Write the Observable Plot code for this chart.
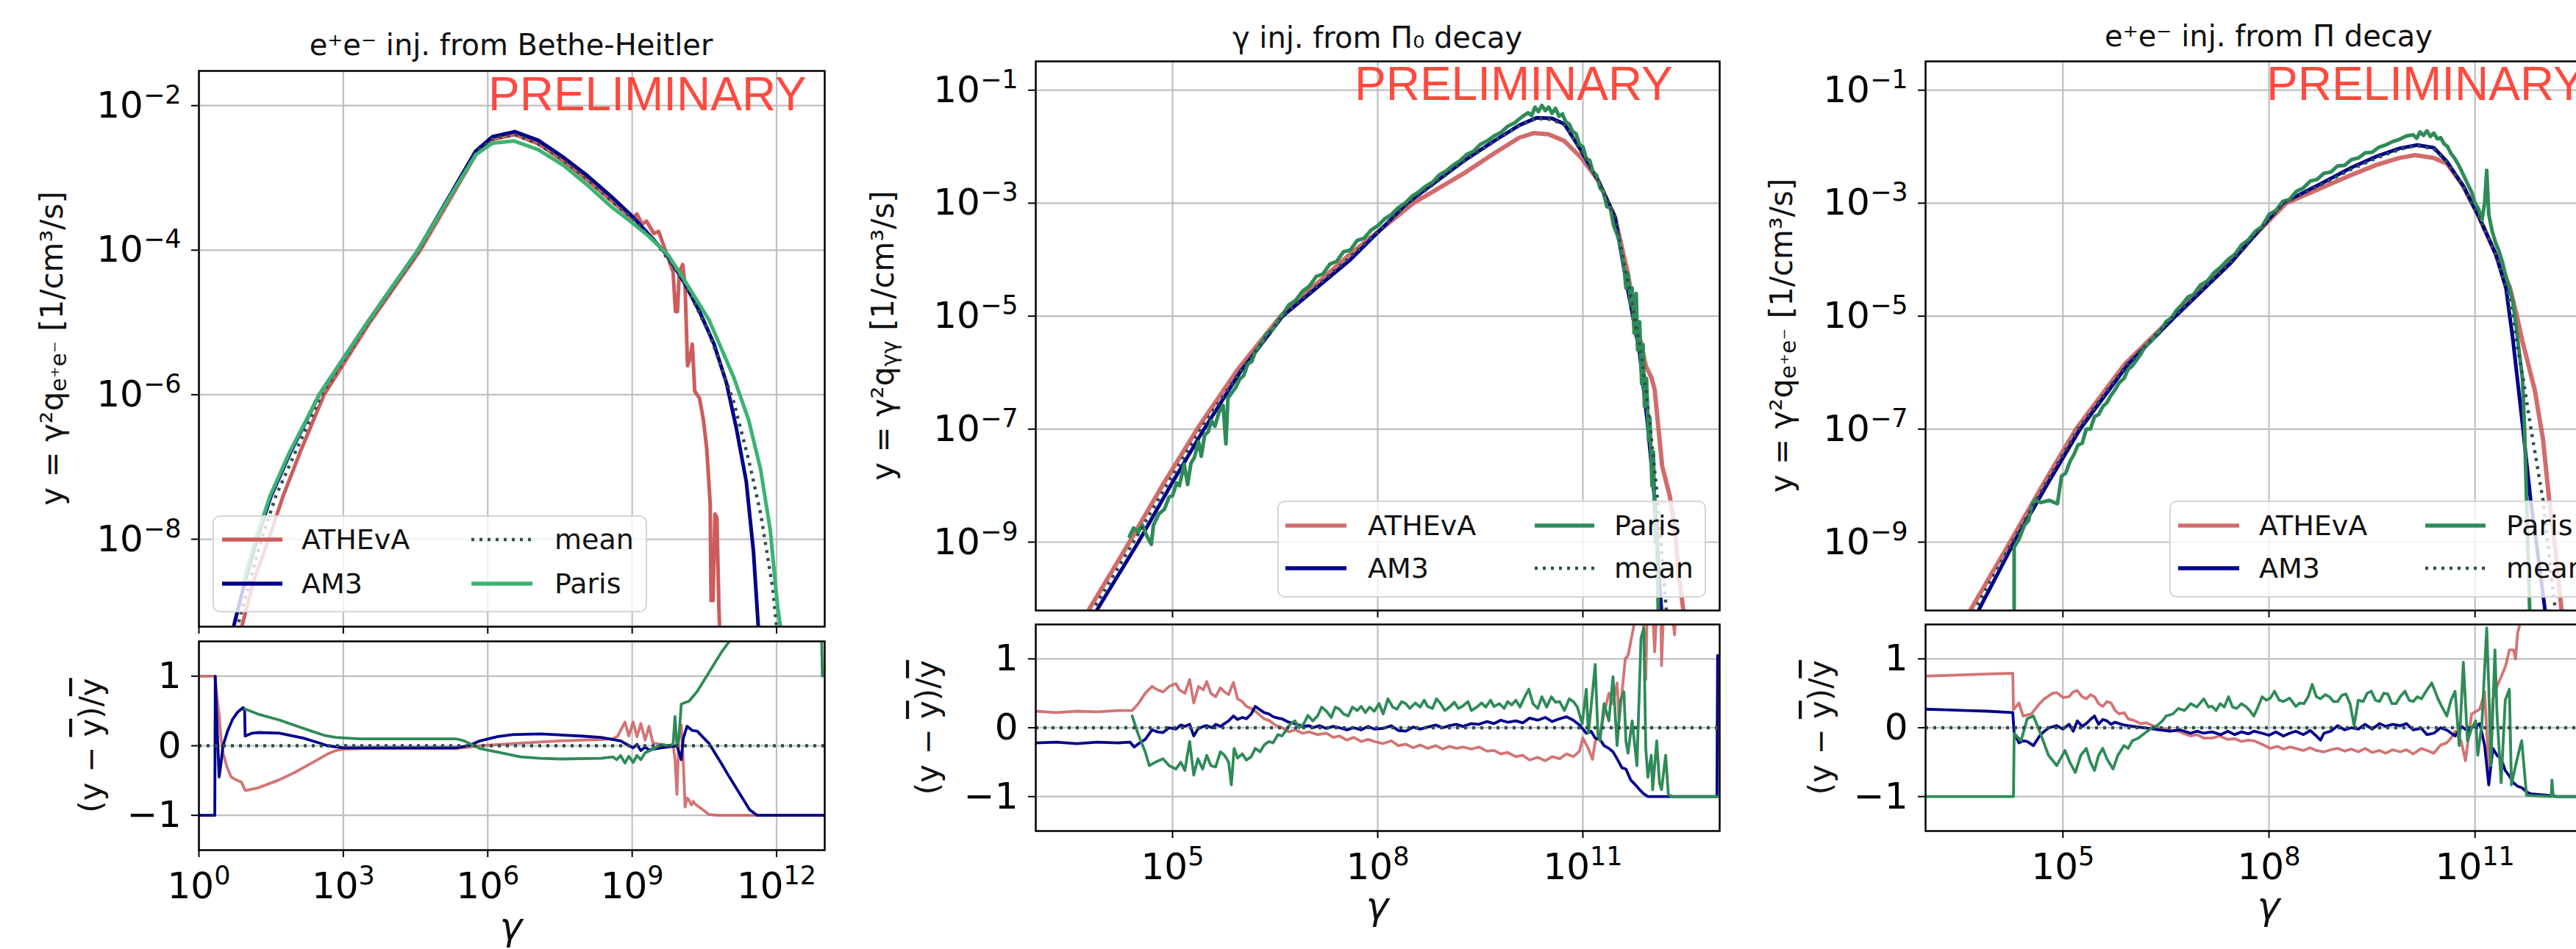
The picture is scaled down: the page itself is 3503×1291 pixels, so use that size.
<!DOCTYPE html>
<html><head><meta charset="utf-8">
<script src="https://cdn.jsdelivr.net/npm/d3@7"></script>
<script src="https://cdn.jsdelivr.net/npm/@observablehq/plot@0.6"></script>
<style>
html,body{margin:0;padding:0;background:#fff;overflow:hidden;}
#root{position:relative;width:3503px;height:1291px;overflow:hidden;background:#fff;}
</style></head><body><div id="root"></div><script>
// ---------------- DATA (log10 γ, log10 y) ----------------
const TITLES = ["e⁺e⁻ inj. from Bethe-Heitler", "γ inj. from Π₀ decay", "e⁺e⁻ inj. from Π decay"];
const SUBS = ["e⁺e⁻", "γγ", "e⁺e⁻"];
const X_TICKS = [[0,3,6,9,12],[5,8,11],[5,8,11]];
const Y_TICKS = [[-8,-6,-4,-2],[-9,-7,-5,-3,-1],[-9,-7,-5,-3,-1]];
const X_DOMAIN = [[0,13],[3,13],[3,13]];
const Y_DOMAIN = [[-9.21,-1.52],[-10.21,-0.49],[-10.21,-0.49]];
const RES_TICKS = [-1,0,1];
const RES_DOMAIN = [-1.5,1.5];

const p1Athena = [[0.80,-9.7],[0.89,-9.21],[1.15,-8.55],[1.45,-8.0],[1.75,-7.4],[2.1,-6.8],[2.6,-6.0],[3.55,-5.0],[4.6,-4.0],[5.3,-3.2],[5.77,-2.66],[6.1,-2.47],[6.56,-2.4],[7.05,-2.53],[7.56,-2.76],[8.07,-3.03],[8.57,-3.32],[9.0,-3.56],[9.1,-3.5],[9.2,-3.64],[9.3,-3.6],[9.45,-3.77],[9.55,-3.74],[9.7,-4.02],[9.85,-4.3],[9.9,-4.85],[9.94,-4.85],[9.98,-4.3],[10.05,-4.2],[10.1,-4.5],[10.15,-5.6],[10.2,-5.5],[10.25,-5.3],[10.3,-5.95],[10.4,-6.05],[10.48,-6.35],[10.55,-6.75],[10.62,-7.5],[10.64,-8.85],[10.68,-8.85],[10.72,-7.65],[10.76,-7.7],[10.8,-8.9],[10.84,-9.7]];
const p1AM3 = [[0.6,-9.7],[0.72,-9.21],[0.95,-8.6],[1.2,-8.0],[1.5,-7.4],[1.9,-6.8],[2.5,-6.0],[3.5,-5.0],[4.55,-4.0],[5.25,-3.2],[5.75,-2.63],[6.1,-2.43],[6.56,-2.36],[7.05,-2.48],[7.56,-2.71],[8.07,-2.97],[8.57,-3.26],[9.0,-3.53],[9.33,-3.77],[9.74,-4.08],[10.1,-4.47],[10.4,-4.85],[10.7,-5.3],[10.96,-5.84],[11.16,-6.45],[11.37,-7.2],[11.52,-8.17],[11.62,-9.21],[11.67,-9.7]];
const p1Paris = [[0.93,-8.6],[1.18,-8.0],[1.48,-7.4],[1.88,-6.8],[2.5,-6.0],[3.5,-5.0],[4.55,-4.0],[5.25,-3.22],[5.75,-2.68],[6.1,-2.52],[6.55,-2.49],[7.05,-2.61],[7.56,-2.82],[8.07,-3.1],[8.57,-3.4],[9.0,-3.62],[9.33,-3.8],[9.74,-4.06],[10.1,-4.43],[10.6,-4.97],[11.11,-5.76],[11.42,-6.35],[11.67,-7.04],[11.87,-7.88],[12.02,-8.93],[12.08,-9.21],[12.12,-9.7]];
const p1Mean = [[0.7,-9.7],[0.8,-9.21],[1.05,-8.6],[1.3,-8.0],[1.6,-7.4],[2.0,-6.8],[2.55,-6.0],[3.52,-5.0],[4.57,-4.0],[5.27,-3.2],[5.76,-2.65],[6.1,-2.46],[6.56,-2.4],[7.05,-2.53],[7.56,-2.75],[8.07,-3.02],[8.57,-3.32],[9.0,-3.56],[9.5,-3.9],[10.1,-4.46],[10.61,-5.17],[11.11,-6.1],[11.42,-6.9],[11.67,-7.65],[11.92,-8.68],[12.0,-9.21],[12.04,-9.7]];

const p2Athena = [[3.65,-10.8],[3.77,-10.21],[4.37,-9.0],[4.85,-8.0],[5.36,-7.0],[5.95,-5.95],[6.58,-5.0],[7.55,-3.95],[8.52,-3.0],[9.25,-2.48],[9.7,-2.12],[10.07,-1.84],[10.28,-1.76],[10.5,-1.78],[10.73,-1.9],[10.98,-2.2],[11.22,-2.59],[11.47,-3.25],[11.65,-4.2],[11.8,-5.2],[11.92,-5.88],[12.0,-6.08],[12.05,-6.3],[12.11,-7.05],[12.16,-7.66],[12.27,-8.18],[12.34,-8.7],[12.4,-9.56],[12.47,-10.21],[12.5,-10.8]];
const p2AM3 = [[3.8,-10.8],[3.89,-10.21],[4.5,-9.0],[4.97,-8.0],[5.46,-7.0],[6.0,-5.97],[6.61,-5.0],[7.6,-4.0],[8.43,-3.0],[9.25,-2.26],[9.7,-1.9],[10.07,-1.62],[10.32,-1.49],[10.55,-1.5],[10.73,-1.6],[10.98,-2.08],[11.22,-2.59],[11.47,-3.25],[11.63,-4.36],[11.73,-5.0],[11.83,-5.66],[11.95,-6.96],[12.05,-8.26],[12.11,-9.56],[12.15,-10.21],[12.17,-10.8]];
const p2Paris = [[4.37,-8.9],[4.43,-8.75],[4.5,-8.82],[4.56,-8.7],[4.62,-8.88],[4.69,-9.04],[4.72,-8.7],[4.8,-8.5],[4.88,-8.42],[4.95,-8.2],[5.0,-8.18],[5.06,-7.95],[5.1,-8.0],[5.17,-7.62],[5.22,-7.98],[5.27,-7.6],[5.32,-7.5],[5.38,-7.22],[5.42,-7.48],[5.47,-7.1],[5.52,-7.05],[5.57,-6.85],[5.62,-6.95],[5.68,-6.7],[5.74,-6.58],[5.78,-7.26],[5.81,-6.45],[5.87,-6.35],[5.93,-6.25],[5.98,-6.12],[6.04,-6.05],[6.1,-5.85],[6.16,-5.8],[6.22,-5.6],[6.3,-5.48],[6.38,-5.3],[6.46,-5.25],[6.54,-5.08],[6.62,-4.95],[6.7,-4.8],[6.8,-4.72],[6.9,-4.56],[7.0,-4.47],[7.1,-4.3],[7.2,-4.25],[7.3,-4.08],[7.4,-4.03],[7.5,-3.86],[7.6,-3.83],[7.7,-3.66],[7.8,-3.62],[7.9,-3.48],[8.0,-3.4],[8.1,-3.28],[8.2,-3.2],[8.3,-3.08],[8.4,-3.0],[8.5,-2.88],[8.6,-2.8],[8.7,-2.7],[8.8,-2.63],[8.9,-2.5],[9.0,-2.43],[9.1,-2.33],[9.2,-2.25],[9.3,-2.14],[9.4,-2.08],[9.5,-1.96],[9.6,-1.9],[9.7,-1.81],[9.8,-1.75],[9.9,-1.64],[10.0,-1.58],[10.1,-1.48],[10.2,-1.4],[10.25,-1.45],[10.3,-1.3],[10.35,-1.38],[10.4,-1.27],[10.45,-1.36],[10.5,-1.3],[10.55,-1.41],[10.6,-1.32],[10.65,-1.46],[10.7,-1.42],[10.75,-1.56],[10.8,-1.6],[10.85,-1.73],[10.9,-1.77],[10.95,-1.96],[11.0,-2.0],[11.05,-2.21],[11.1,-2.24],[11.15,-2.46],[11.2,-2.5],[11.25,-2.73],[11.3,-2.8],[11.35,-3.06],[11.4,-3.08],[11.45,-3.4],[11.5,-3.55],[11.55,-3.75],[11.6,-4.1],[11.63,-4.5],[11.66,-4.25],[11.7,-4.8],[11.72,-4.5],[11.75,-5.3],[11.78,-4.6],[11.8,-5.6],[11.83,-5.1],[11.86,-6.2],[11.88,-5.5],[11.9,-6.6],[11.93,-6.1],[11.96,-7.2],[11.98,-6.8],[12.01,-8.0],[12.03,-7.4],[12.06,-9.0],[12.08,-8.6],[12.11,-10.8]];
const p2Mean = [[3.7,-10.8],[3.83,-10.21],[4.43,-9.0],[4.91,-8.0],[5.41,-7.0],[6.0,-5.95],[6.6,-5.0],[7.58,-3.97],[8.45,-3.0],[9.25,-2.27],[9.7,-1.91],[10.07,-1.63],[10.32,-1.5],[10.55,-1.52],[10.75,-1.63],[10.98,-2.1],[11.22,-2.59],[11.47,-3.25],[11.66,-4.4],[11.86,-5.7],[11.98,-6.9],[12.08,-8.1],[12.16,-9.3],[12.22,-10.21],[12.25,-10.8]];

const p3Athena = [[3.55,-10.8],[3.65,-10.21],[4.23,-9.0],[4.7,-8.0],[5.19,-7.0],[5.9,-5.85],[6.61,-5.0],[7.4,-4.05],[8.25,-3.0],[8.78,-2.72],[9.2,-2.5],[9.57,-2.32],[9.9,-2.2],[10.12,-2.15],[10.4,-2.2],[10.59,-2.3],[10.83,-2.7],[11.06,-3.25],[11.3,-3.9],[11.51,-4.5],[11.6,-4.95],[11.69,-5.44],[11.87,-6.31],[11.99,-7.18],[12.08,-8.26],[12.17,-9.13],[12.26,-10.21],[12.3,-10.8]];
const p3AM3 = [[3.65,-10.8],[3.77,-10.21],[4.29,-9.0],[4.76,-8.0],[5.25,-7.0],[5.95,-5.85],[6.64,-5.0],[7.45,-4.05],[8.2,-3.0],[8.78,-2.64],[9.2,-2.37],[9.57,-2.17],[9.9,-2.03],[10.16,-1.97],[10.4,-2.02],[10.59,-2.26],[10.83,-2.7],[11.06,-3.25],[11.3,-3.9],[11.45,-4.5],[11.55,-5.4],[11.69,-6.9],[11.81,-8.26],[11.93,-9.35],[12.02,-10.21],[12.05,-10.8]];
const p3Paris = [[4.29,-10.8],[4.29,-9.09],[4.36,-8.95],[4.44,-8.7],[4.5,-8.62],[4.55,-8.35],[4.59,-8.26],[4.68,-8.3],[4.8,-8.26],[4.92,-8.32],[4.98,-7.83],[5.04,-7.78],[5.1,-7.58],[5.16,-7.45],[5.22,-7.28],[5.28,-7.25],[5.34,-7.0],[5.4,-7.0],[5.46,-6.78],[5.52,-6.74],[5.58,-6.6],[5.64,-6.53],[5.7,-6.4],[5.76,-6.3],[5.82,-6.18],[5.89,-6.1],[5.95,-5.94],[6.01,-5.88],[6.07,-5.78],[6.13,-5.68],[6.2,-5.53],[6.28,-5.45],[6.36,-5.32],[6.43,-5.24],[6.5,-5.1],[6.58,-5.03],[6.65,-4.9],[6.73,-4.8],[6.82,-4.66],[6.9,-4.62],[7.0,-4.45],[7.1,-4.38],[7.2,-4.23],[7.3,-4.13],[7.4,-4.0],[7.5,-3.91],[7.6,-3.74],[7.7,-3.65],[7.8,-3.5],[7.9,-3.41],[8.0,-3.2],[8.1,-3.13],[8.2,-2.97],[8.3,-2.93],[8.4,-2.79],[8.5,-2.73],[8.6,-2.61],[8.7,-2.58],[8.8,-2.47],[8.9,-2.45],[9.0,-2.34],[9.1,-2.33],[9.2,-2.23],[9.3,-2.2],[9.4,-2.11],[9.5,-2.1],[9.6,-2.01],[9.7,-1.97],[9.8,-1.91],[9.9,-1.87],[10.0,-1.81],[10.1,-1.79],[10.15,-1.85],[10.2,-1.74],[10.25,-1.8],[10.3,-1.72],[10.35,-1.82],[10.4,-1.76],[10.45,-1.86],[10.5,-1.84],[10.55,-1.95],[10.6,-2.0],[10.65,-2.12],[10.7,-2.2],[10.75,-2.3],[10.8,-2.42],[10.85,-2.55],[10.9,-2.68],[10.95,-2.8],[11.0,-3.0],[11.05,-3.1],[11.1,-3.3],[11.14,-3.0],[11.17,-2.42],[11.2,-3.2],[11.25,-3.5],[11.3,-3.7],[11.35,-3.85],[11.4,-4.05],[11.45,-4.3],[11.5,-4.5],[11.55,-4.75],[11.6,-5.2],[11.65,-5.7],[11.69,-6.1],[11.72,-6.96],[11.75,-8.26],[11.78,-9.56],[11.81,-10.8]];
const p3Mean = [[3.6,-10.8],[3.71,-10.21],[4.26,-9.0],[4.73,-8.0],[5.22,-7.0],[5.93,-5.85],[6.62,-5.0],[7.43,-4.05],[8.22,-3.0],[8.78,-2.66],[9.2,-2.4],[9.57,-2.2],[9.9,-2.05],[10.15,-1.98],[10.4,-2.04],[10.59,-2.27],[10.83,-2.7],[11.06,-3.25],[11.3,-3.9],[11.48,-4.6],[11.57,-5.23],[11.7,-6.1],[11.81,-6.96],[11.99,-8.26],[12.11,-9.56],[12.17,-10.21],[12.2,-10.8]];

// ---------------- residuals (log10 γ, (y - ȳ)/ȳ) ----------------
const r1Athena = [[0,1.0],[0.33,1.0],[0.36,0.8],[0.4,0.55],[0.42,0.44],[0.46,0.1],[0.5,-0.1],[0.58,-0.3],[0.67,-0.45],[0.8,-0.5],[0.88,-0.52],[0.92,-0.58],[0.96,-0.64],[1.0,-0.64],[1.25,-0.6],[1.67,-0.49],[2.0,-0.38],[2.34,-0.25],[2.67,-0.12],[2.84,-0.07],[3.0,-0.05],[3.34,-0.04],[4.5,-0.04],[5.34,-0.04],[5.84,0.0],[6.5,0.03],[7.5,0.07],[8.35,0.09],[8.6,0.1],[8.7,0.14],[8.76,0.22],[8.85,0.34],[8.93,0.14],[9.02,0.34],[9.1,0.13],[9.18,0.32],[9.27,0.08],[9.35,0.28],[9.43,0.04],[9.6,0.02],[9.77,0.0],[9.85,0.02],[9.89,-0.2],[9.93,-0.7],[9.97,0.1],[10.02,0.3],[10.06,-0.2],[10.1,-0.88],[10.14,-0.75],[10.18,-0.78],[10.23,-0.85],[10.27,-0.8],[10.31,-0.84],[10.43,-0.9],[10.6,-0.99],[10.8,-1.0],[13,-1.0]];
const r1AM3 = [[0,-1.0],[0.33,-1.0],[0.34,1.0],[0.37,0.4],[0.4,-0.1],[0.42,-0.45],[0.45,-0.3],[0.5,0.0],[0.6,0.22],[0.7,0.38],[0.8,0.48],[0.92,0.55],[0.95,0.5],[0.96,0.14],[1.1,0.18],[1.25,0.19],[1.67,0.18],[2.17,0.11],[2.5,0.04],[2.67,0.0],[3.0,-0.03],[5.34,-0.03],[5.6,0.0],[5.84,0.07],[6.2,0.13],[6.51,0.16],[7.1,0.17],[7.93,0.14],[8.35,0.12],[8.76,0.07],[9.02,-0.03],[9.1,0.02],[9.18,-0.07],[9.27,-0.02],[9.35,-0.06],[9.6,-0.03],[9.93,0.0],[10.02,-0.2],[10.06,0.1],[10.14,0.28],[10.25,0.22],[10.35,0.21],[10.6,0.03],[10.85,-0.25],[11.02,-0.45],[11.19,-0.64],[11.44,-0.92],[11.6,-1.0],[13,-1.0]];
const r1Paris = [[0.95,0.53],[1.25,0.45],[1.67,0.37],[2.0,0.29],[2.34,0.21],[2.6,0.15],[2.84,0.12],[3.34,0.1],[5.34,0.1],[5.51,0.07],[5.84,-0.04],[6.26,-0.1],[6.68,-0.16],[7.1,-0.18],[7.51,-0.19],[8.35,-0.18],[8.6,-0.16],[8.68,-0.2],[8.76,-0.14],[8.85,-0.25],[8.93,-0.15],[9.02,-0.24],[9.1,-0.14],[9.18,-0.2],[9.27,-0.1],[9.43,-0.05],[9.6,0.02],[9.77,0.0],[9.85,0.02],[9.89,0.42],[9.93,0.0],[9.97,0.1],[10.02,0.6],[10.1,0.62],[10.18,0.64],[10.35,0.78],[10.6,1.06],[10.85,1.34],[11.02,1.5],[11.5,2.0],[12.0,2.5],[12.9,3.0],[12.95,1.0]];

const r2Athena = [[3.0,0.24],[3.3,0.22],[3.6,0.24],[3.9,0.23],[4.2,0.25],[4.41,0.25],[4.5,0.35],[4.6,0.5],[4.7,0.6],[4.78,0.55],[4.86,0.52],[4.95,0.6],[5.05,0.64],[5.1,0.55],[5.18,0.5],[5.25,0.7],[5.31,0.36],[5.38,0.6],[5.45,0.55],[5.5,0.67],[5.56,0.5],[5.63,0.45],[5.7,0.58],[5.76,0.52],[5.82,0.48],[5.89,0.66],[5.95,0.42],[6.02,0.38],[6.08,0.31],[6.15,0.28],[6.21,0.24],[6.28,0.18],[6.34,0.13],[6.42,0.1],[6.5,0.04],[6.6,0.0],[6.7,-0.06],[6.79,-0.03],[6.9,-0.08],[7.0,-0.06],[7.12,-0.1],[7.25,-0.08],[7.35,-0.14],[7.44,-0.12],[7.55,-0.18],[7.65,-0.14],[7.76,-0.2],[7.86,-0.17],[7.95,-0.2],[8.08,-0.23],[8.2,-0.19],[8.3,-0.26],[8.41,-0.24],[8.52,-0.29],[8.62,-0.25],[8.73,-0.3],[8.85,-0.26],[8.95,-0.31],[9.05,-0.27],[9.15,-0.3],[9.25,-0.28],[9.37,-0.31],[9.48,-0.28],[9.6,-0.34],[9.7,-0.33],[9.8,-0.38],[9.9,-0.36],[10.02,-0.42],[10.12,-0.4],[10.22,-0.47],[10.34,-0.43],[10.45,-0.48],[10.55,-0.42],[10.66,-0.45],[10.76,-0.38],[10.86,-0.42],[10.95,-0.34],[11.0,-0.15],[11.08,-0.3],[11.14,-0.46],[11.18,-0.2],[11.25,-0.1],[11.31,0.2],[11.38,0.5],[11.44,0.35],[11.5,0.65],[11.53,0.1],[11.57,0.5],[11.62,1.0],[11.66,1.05],[11.7,1.25],[11.73,1.4],[11.78,1.7],[11.88,1.7],[11.92,0.7],[11.94,1.7],[12.02,1.7],[12.05,1.1],[12.08,1.7],[12.14,1.7],[12.15,0.9],[12.18,1.7],[12.3,1.7],[12.34,1.35],[12.36,1.7]];
const r2AM3 = [[3.0,-0.22],[3.3,-0.21],[3.6,-0.23],[3.9,-0.21],[4.2,-0.22],[4.38,-0.21],[4.44,-0.28],[4.52,-0.22],[4.6,-0.17],[4.7,-0.03],[4.78,-0.06],[4.86,-0.07],[4.95,0.0],[5.05,-0.02],[5.12,0.04],[5.18,0.02],[5.25,0.05],[5.31,-0.12],[5.37,-0.02],[5.45,0.02],[5.5,0.03],[5.58,0.0],[5.63,0.05],[5.7,0.02],[5.76,0.06],[5.82,0.1],[5.89,0.17],[5.95,0.12],[6.02,0.15],[6.08,0.13],[6.15,0.2],[6.21,0.31],[6.28,0.26],[6.34,0.22],[6.41,0.2],[6.47,0.16],[6.54,0.14],[6.6,0.13],[6.7,0.08],[6.79,0.06],[6.9,0.02],[7.0,0.03],[7.05,0.0],[7.15,0.03],[7.25,-0.01],[7.35,0.02],[7.44,0.0],[7.55,-0.03],[7.65,0.0],[7.76,-0.03],[7.86,0.02],[7.95,-0.02],[8.08,-0.01],[8.2,0.03],[8.3,-0.04],[8.41,-0.05],[8.52,0.01],[8.62,-0.02],[8.73,0.01],[8.85,0.04],[8.95,0.0],[9.05,0.03],[9.15,0.05],[9.25,0.02],[9.37,0.06],[9.48,0.05],[9.6,0.09],[9.7,0.06],[9.8,0.11],[9.9,0.08],[10.02,0.1],[10.12,0.07],[10.22,0.14],[10.34,0.11],[10.45,0.15],[10.55,0.09],[10.66,0.13],[10.76,0.16],[10.86,0.11],[10.95,0.04],[11.05,-0.08],[11.12,-0.05],[11.18,-0.15],[11.25,-0.17],[11.31,-0.26],[11.38,-0.3],[11.44,-0.35],[11.5,-0.45],[11.57,-0.58],[11.63,-0.6],[11.7,-0.76],[11.76,-0.82],[11.83,-0.9],[11.89,-0.96],[11.95,-1.0],[12.96,-1.0],[12.97,1.05]];
const r2Paris = [[4.41,0.17],[4.5,-0.1],[4.6,-0.35],[4.66,-0.55],[4.75,-0.5],[4.86,-0.45],[4.95,-0.55],[5.05,-0.6],[5.12,-0.5],[5.18,-0.62],[5.25,-0.2],[5.31,-0.69],[5.37,-0.45],[5.44,-0.6],[5.5,-0.4],[5.56,-0.55],[5.63,-0.57],[5.7,-0.35],[5.76,-0.4],[5.82,-0.5],[5.86,-0.83],[5.9,-0.3],[5.95,-0.44],[6.02,-0.38],[6.08,-0.47],[6.15,-0.42],[6.21,-0.3],[6.28,-0.35],[6.34,-0.25],[6.41,-0.2],[6.47,-0.22],[6.54,-0.1],[6.6,-0.12],[6.66,-0.04],[6.72,0.05],[6.79,0.1],[6.85,0.0],[6.92,0.06],[6.98,0.18],[7.05,0.1],[7.12,0.17],[7.18,0.3],[7.25,0.24],[7.32,0.15],[7.38,0.3],[7.44,0.27],[7.5,0.2],[7.57,0.17],[7.63,0.3],[7.7,0.25],[7.76,0.31],[7.82,0.22],[7.88,0.3],[7.95,0.24],[8.02,0.35],[8.08,0.2],[8.15,0.42],[8.22,0.3],[8.28,0.27],[8.35,0.38],[8.41,0.35],[8.47,0.28],[8.55,0.36],[8.62,0.3],[8.68,0.4],[8.73,0.31],[8.8,0.28],[8.86,0.42],[8.92,0.35],[8.98,0.25],[9.05,0.3],[9.12,0.37],[9.18,0.28],[9.25,0.32],[9.32,0.38],[9.37,0.25],[9.45,0.3],[9.52,0.36],[9.58,0.3],[9.65,0.4],[9.7,0.31],[9.78,0.35],[9.85,0.28],[9.9,0.38],[9.96,0.33],[10.02,0.4],[10.08,0.3],[10.15,0.45],[10.21,0.56],[10.27,0.35],[10.34,0.28],[10.4,0.45],[10.47,0.3],[10.54,0.45],[10.6,0.37],[10.66,0.38],[10.73,0.25],[10.8,0.42],[10.86,0.38],[10.92,0.3],[10.99,0.06],[11.05,0.56],[11.08,-0.08],[11.12,0.3],[11.18,0.92],[11.22,-0.1],[11.25,-0.19],[11.31,0.35],[11.38,0.1],[11.44,0.74],[11.5,-0.26],[11.55,0.4],[11.6,0.52],[11.63,-0.2],[11.66,-0.37],[11.72,0.1],[11.79,-0.55],[11.85,1.3],[11.89,1.45],[11.92,-0.3],[11.95,-0.72],[12.0,-0.4],[12.02,-0.9],[12.08,-0.19],[12.12,-0.8],[12.15,-0.9],[12.21,-0.4],[12.25,-0.97],[12.3,-1.0],[12.97,-1.0]];

const r3Athena = [[2.99,0.75],[3.3,0.76],[3.6,0.77],[3.9,0.78],[4.27,0.79],[4.28,0.26],[4.36,0.36],[4.42,0.17],[4.54,0.2],[4.66,0.35],[4.73,0.42],[4.85,0.5],[4.91,0.51],[5.0,0.44],[5.09,0.45],[5.15,0.52],[5.21,0.54],[5.28,0.45],[5.34,0.42],[5.4,0.48],[5.46,0.45],[5.52,0.35],[5.58,0.31],[5.64,0.38],[5.7,0.36],[5.76,0.25],[5.82,0.2],[5.89,0.22],[5.95,0.13],[6.05,0.1],[6.13,0.06],[6.22,0.07],[6.31,0.03],[6.4,0.0],[6.5,-0.02],[6.56,-0.05],[6.65,-0.04],[6.75,-0.08],[6.86,-0.12],[6.95,-0.1],[7.05,-0.15],[7.17,-0.15],[7.28,-0.12],[7.4,-0.17],[7.5,-0.16],[7.6,-0.2],[7.7,-0.18],[7.78,-0.19],[7.9,-0.24],[8.02,-0.3],[8.12,-0.27],[8.21,-0.31],[8.3,-0.28],[8.39,-0.3],[8.5,-0.33],[8.6,-0.29],[8.69,-0.33],[8.8,-0.35],[8.9,-0.32],[9.0,-0.3],[9.1,-0.34],[9.2,-0.31],[9.3,-0.35],[9.4,-0.3],[9.5,-0.36],[9.61,-0.33],[9.7,-0.37],[9.8,-0.32],[9.91,-0.35],[10.0,-0.32],[10.1,-0.38],[10.22,-0.3],[10.3,-0.33],[10.4,-0.37],[10.5,-0.25],[10.59,-0.22],[10.65,-0.15],[10.71,-0.05],[10.8,-0.2],[10.86,-0.48],[10.95,0.2],[11.07,0.27],[11.14,0.52],[11.2,-0.62],[11.26,0.42],[11.32,0.6],[11.38,0.74],[11.44,0.88],[11.5,1.13],[11.56,1.13],[11.59,1.0],[11.62,1.38],[11.68,1.6]];
const r3AM3 = [[2.99,0.27],[3.3,0.26],[3.6,0.25],[3.9,0.24],[4.27,0.22],[4.29,-0.08],[4.36,-0.22],[4.42,-0.19],[4.48,-0.2],[4.57,-0.26],[4.66,-0.12],[4.73,-0.05],[4.8,0.0],[4.91,0.03],[5.0,-0.02],[5.09,0.05],[5.15,-0.05],[5.21,0.1],[5.28,0.02],[5.34,0.06],[5.4,0.12],[5.46,0.17],[5.52,0.05],[5.58,0.12],[5.64,0.1],[5.7,0.05],[5.76,0.08],[5.82,0.06],[5.89,0.04],[5.95,0.03],[6.1,0.01],[6.25,-0.01],[6.4,-0.03],[6.56,-0.05],[6.7,-0.03],[6.86,-0.08],[6.95,-0.05],[7.05,-0.08],[7.17,-0.06],[7.3,-0.1],[7.4,-0.05],[7.5,-0.1],[7.6,-0.06],[7.7,-0.09],[7.78,-0.05],[7.9,-0.08],[8.0,-0.11],[8.1,-0.06],[8.21,-0.12],[8.3,-0.08],[8.39,-0.05],[8.5,-0.1],[8.6,-0.04],[8.69,-0.12],[8.75,-0.18],[8.8,-0.08],[8.9,-0.05],[9.0,0.03],[9.1,-0.03],[9.2,0.0],[9.3,-0.02],[9.4,0.05],[9.5,-0.02],[9.61,0.06],[9.7,0.02],[9.8,0.05],[9.91,0.03],[10.0,0.06],[10.1,-0.03],[10.22,-0.01],[10.3,-0.1],[10.4,-0.08],[10.5,0.0],[10.6,-0.04],[10.71,-0.12],[10.8,0.02],[10.9,-0.05],[10.95,0.0],[11.01,0.03],[11.07,0.06],[11.14,-0.26],[11.2,-0.83],[11.26,-0.3],[11.32,-0.4],[11.38,-0.45],[11.44,-0.62],[11.5,-0.7],[11.56,-0.8],[11.62,-0.85],[11.68,-0.87],[11.75,-0.93],[11.81,-0.96],[12.05,-0.98],[12.2,-1.0],[13,-1.0]];
const r3Paris = [[2.99,-1],[4.28,-1],[4.29,-0.08],[4.39,-0.19],[4.48,0.13],[4.57,0.17],[4.66,-0.05],[4.79,-0.4],[4.91,-0.55],[5.03,-0.33],[5.1,-0.5],[5.18,-0.65],[5.26,-0.4],[5.34,-0.3],[5.4,-0.5],[5.46,-0.62],[5.52,-0.4],[5.58,-0.3],[5.64,-0.45],[5.73,-0.6],[5.8,-0.4],[5.89,-0.26],[5.95,-0.3],[6.01,-0.19],[6.1,-0.15],[6.19,-0.08],[6.3,0.0],[6.37,0.03],[6.45,0.1],[6.5,0.17],[6.6,0.2],[6.68,0.28],[6.77,0.25],[6.86,0.35],[6.95,0.3],[7.05,0.42],[7.12,0.3],[7.17,0.31],[7.23,0.25],[7.29,0.35],[7.35,0.3],[7.41,0.45],[7.47,0.3],[7.53,0.28],[7.6,0.35],[7.66,0.31],[7.72,0.25],[7.78,0.17],[7.84,0.3],[7.9,0.45],[7.96,0.4],[8.02,0.43],[8.08,0.53],[8.15,0.4],[8.21,0.38],[8.3,0.43],[8.39,0.31],[8.45,0.36],[8.51,0.35],[8.57,0.45],[8.63,0.63],[8.69,0.45],[8.75,0.42],[8.82,0.48],[8.88,0.45],[8.94,0.38],[9.0,0.38],[9.06,0.47],[9.12,0.49],[9.18,0.35],[9.24,0.03],[9.3,0.4],[9.37,0.38],[9.43,0.5],[9.49,0.53],[9.55,0.4],[9.61,0.38],[9.67,0.5],[9.73,0.49],[9.79,0.35],[9.85,0.35],[9.91,0.45],[9.98,0.53],[10.04,0.4],[10.1,0.38],[10.16,0.45],[10.22,0.42],[10.3,0.55],[10.37,0.65],[10.43,0.5],[10.46,0.42],[10.52,0.3],[10.59,0.17],[10.65,0.4],[10.71,0.53],[10.77,-0.26],[10.83,0.95],[10.89,-0.19],[10.95,-0.01],[11.01,0.1],[11.04,-0.4],[11.1,0.06],[11.17,1.45],[11.2,0.6],[11.23,-0.55],[11.29,1.13],[11.32,0.2],[11.38,-0.8],[11.44,0.4],[11.5,0.56],[11.53,-0.83],[11.59,-0.55],[11.65,-0.3],[11.68,-0.19],[11.75,-0.98],[12.11,-1.0],[12.12,-0.76],[12.14,-1.0],[13,-1.0]];

// ---------------- STYLE / LAYOUT ----------------
const C = {ATHEvA:"#cd5c5c", AM3:"#00008b", Paris:"#2e8b57", Paris1:"#3cb371", mean:"#2f4f4f"};
const GRID = "#bfbfbf";
const FONT = "DejaVu Sans";
const LAYOUT = [
  {L:270, R:1121, mT:96, mB:852, rT:872, rB:1156, cx:695, titleY:75, yl:70, rl:123, xlY:1278, prelimX:664, prelimY:150,
   leg:{box:[290,702,879,832], rows:[734,794], cols:[[302,384,410],[641,724,754]]}},
  {L:1408, R:2338, mT:83, mB:830, rT:849, rB:1130, cx:1873, titleY:65, yl:1200, rl:1261, xlY:1250, prelimX:1842, prelimY:136,
   leg:{box:[1738,682,2319,812], rows:[715,773], cols:[[1748,1831,1860],[2087,2168,2195]]}},
  {L:2618, R:3552, mT:83, mB:830, rT:849, rB:1130, cx:3085, titleY:63, yl:2422, rl:2475, xlY:1250, prelimX:3082, prelimY:136,
   leg:{box:[2951,682,3600,812], rows:[715,773], cols:[[2962,3045,3072],[3298,3380,3408]]}}
];
const MAIN = [
  [{n:"ATHEvA",d:p1Athena,c:C.ATHEvA},{n:"AM3",d:p1AM3,c:C.AM3},{n:"mean",d:p1Mean,c:C.mean,dot:true},{n:"Paris",d:p1Paris,c:C.Paris1}],
  [{n:"ATHEvA",d:p2Athena,c:C.ATHEvA,w:6,op:0.9},{n:"AM3",d:p2AM3,c:C.AM3},{n:"Paris",d:p2Paris,c:C.Paris},{n:"mean",d:p2Mean,c:C.mean,dot:true}],
  [{n:"ATHEvA",d:p3Athena,c:C.ATHEvA,w:6,op:0.9},{n:"AM3",d:p3AM3,c:C.AM3},{n:"Paris",d:p3Paris,c:C.Paris},{n:"mean",d:p3Mean,c:C.mean,dot:true}]
];
const RES = [
  [{d:r1Athena,c:C.ATHEvA,op:0.85},{d:r1AM3,c:C.AM3},{d:r1Paris,c:C.Paris}],
  [{d:r2Athena,c:C.ATHEvA,op:0.85},{d:r2AM3,c:C.AM3},{d:r2Paris,c:C.Paris}],
  [{d:r3Athena,c:C.ATHEvA,op:0.85},{d:r3AM3,c:C.AM3},{d:r3Paris,c:C.Paris}]
];

const logFmt = d => "10^" + Math.round(Math.log10(d));
const resFmt = d => d < 0 ? "−" + Math.abs(d) : String(d);
const NS = "http://www.w3.org/2000/svg";

const root = document.getElementById("root");

function superscriptTicks(svg) {
  svg.querySelectorAll("text").forEach(t => {
    const m = (t.textContent || "").match(/^10\^(-?\d+)$/);
    if (!m) return;
    t.textContent = "10";
    const ts = document.createElementNS(NS, "tspan");
    ts.setAttribute("font-size", "35");
    ts.setAttribute("dy", "-19");
    ts.textContent = m[1].replace("-", "−");
    t.appendChild(ts);
  });
}

function place(svg, left, top) {
  superscriptTicks(svg);
  svg.style.position = "absolute";
  svg.style.left = left + "px";
  svg.style.top = top + "px";
  svg.style.maxWidth = "none";
  svg.style.background = "transparent";
  root.appendChild(svg);
}

function lineMark(rows, s, w) {
  return Plot.line(rows, {x:"x", y:"y", stroke:s.c, strokeWidth:s.w || w, strokeOpacity:s.op || 1,
    strokeDasharray: s.dot ? "4,7" : null, strokeLinecap: s.dot ? "butt" : "round", strokeLinejoin:"round", clip:true});
}

const ML = 200, MR = 4, MT = 4;
LAYOUT.forEach((lay, i) => {
  const fw = lay.R - lay.L;
  const xdom = X_DOMAIN[i].map(e => 10 ** e);
  const xt = X_TICKS[i].map(e => 10 ** e);
  // main plot
  {
    const fh = lay.mB - lay.mT, MB = 20;
    const yt = Y_TICKS[i].map(e => 10 ** e);
    const marks = [
      Plot.ruleX(xt, {stroke:GRID, strokeWidth:2.2}),
      Plot.ruleY(yt, {stroke:GRID, strokeWidth:2.2})
    ];
    MAIN[i].forEach(s => {
      const rows = s.d.map(([a, b]) => ({x: 10 ** a, y: 10 ** b}));
      marks.push(s.dot ? lineMark(rows, {...s, w:4.5}, 4.5) : lineMark(rows, s, 5));
    });
    marks.push(
      Plot.axisY({ticks: yt, tickFormat: logFmt, tickSize: 10, tickPadding: 14, label: null, fontSize: 50, strokeWidth: 2}),
      Plot.axisX({ticks: xt, tickFormat: () => "", tickSize: 10, label: null, strokeWidth: 2}),
      Plot.frame({stroke: "black", strokeWidth: 2.5})
    );
    const svg = Plot.plot({
      width: fw + ML + MR, height: fh + MT + MB,
      marginLeft: ML, marginRight: MR, marginTop: MT, marginBottom: MB,
      x: {type: "log", domain: xdom},
      y: {type: "log", domain: Y_DOMAIN[i].map(e => 10 ** e)},
      style: {fontFamily: FONT, fontSize: "50px", background: "transparent", color: "black", overflow: "visible"},
      marks
    });
    place(svg, lay.L - ML, lay.mT - MT);
  }
  // residual plot
  {
    const fh = lay.rB - lay.rT, MB = 90;
    const marks = [
      Plot.ruleX(xt, {stroke:GRID, strokeWidth:2.2}),
      Plot.ruleY(RES_TICKS, {stroke:GRID, strokeWidth:2.2})
    ];
    RES[i].forEach(s => {
      const rows = s.d.map(([a, b]) => ({x: 10 ** a, y: b}));
      marks.push(lineMark(rows, s, 3.8));
    });
    marks.push(
      Plot.ruleY([0], {stroke: C.mean, strokeWidth: 4.5, strokeDasharray: "4,7"}),
      Plot.axisY({ticks: RES_TICKS, tickFormat: resFmt, tickSize: 10, tickPadding: 14, label: null, fontSize: 50, strokeWidth: 2}),
      Plot.axisX({ticks: xt, tickFormat: logFmt, tickSize: 10, tickPadding: 20, label: null, fontSize: 50, strokeWidth: 2}),
      Plot.frame({stroke: "black", strokeWidth: 2.5})
    );
    const svg = Plot.plot({
      width: fw + ML + MR, height: fh + MT + MB,
      marginLeft: ML, marginRight: MR, marginTop: MT, marginBottom: MB,
      x: {type: "log", domain: xdom},
      y: {type: "linear", domain: RES_DOMAIN},
      style: {fontFamily: FONT, fontSize: "50px", background: "transparent", color: "black", overflow: "visible"},
      marks
    });
    place(svg, lay.L - ML, lay.rT - MT);
  }
});

// ---------------- overlay texts & legends ----------------
const ov = d3.select(root).append("svg")
  .attr("width", 3503).attr("height", 1291)
  .style("position", "absolute").style("left", "0px").style("top", "0px")
  .attr("font-family", FONT);

LAYOUT.forEach((lay, i) => {
  ov.append("text").attr("x", lay.cx).attr("y", lay.titleY).attr("text-anchor", "middle")
    .attr("font-size", 40).attr("fill", "#111").text(TITLES[i]);
  ov.append("text").attr("x", lay.prelimX).attr("y", lay.prelimY)
    .attr("font-family", "Liberation Sans, Arial, sans-serif").attr("font-size", 64)
    .attr("fill", "#ff3b2f").attr("fill-opacity", 0.92).text("PRELIMINARY");
  const cy = (lay.mT + lay.mB) / 2;
  const t = ov.append("text").attr("transform", `translate(${lay.yl},${cy}) rotate(-90)`)
    .attr("text-anchor", "middle").attr("dominant-baseline", "central").attr("font-size", 42).attr("fill", "#111");
  t.append("tspan").text("y = γ²q");
  t.append("tspan").attr("font-size", 30).attr("dy", 9).text(SUBS[i]);
  t.append("tspan").attr("dy", -9).text(" [1/cm³/s]");
  const ry = (lay.rT + lay.rB) / 2;
  const r = ov.append("text").attr("transform", `translate(${lay.rl},${ry}) rotate(-90)`)
    .attr("text-anchor", "middle").attr("dominant-baseline", "central").attr("font-size", 42).attr("fill", "#111");
  r.append("tspan").text("(y − ");
  r.append("tspan").style("text-decoration", "overline").text("y");
  r.append("tspan").text(")/");
  r.append("tspan").style("text-decoration", "overline").text("y");
  ov.append("text").attr("x", lay.cx).attr("y", lay.xlY).attr("text-anchor", "middle")
    .attr("font-size", 52).attr("font-style", "italic").attr("fill", "#111").text("γ");
  const lg = lay.leg, [x0, y0, x1, y1] = lg.box;
  ov.append("rect").attr("x", x0).attr("y", y0).attr("width", x1 - x0).attr("height", y1 - y0)
    .attr("rx", 9).attr("fill", "#fff").attr("fill-opacity", 0.8).attr("stroke", "#d5d5d5").attr("stroke-width", 2);
  MAIN[i].forEach((s, k) => {
    const col = lg.cols[Math.floor(k / 2)], rowY = lg.rows[k % 2];
    ov.append("line").attr("x1", col[0]).attr("x2", col[1]).attr("y1", rowY).attr("y2", rowY)
      .attr("stroke", s.c).attr("stroke-width", s.dot ? 4.5 : 5.5).attr("stroke-opacity", s.op || 1)
      .attr("stroke-dasharray", s.dot ? "4,7" : null);
    ov.append("text").attr("x", col[2]).attr("y", rowY + 13).attr("font-size", 38).attr("fill", "#111").text(s.n);
  });
});
</script></body></html>
